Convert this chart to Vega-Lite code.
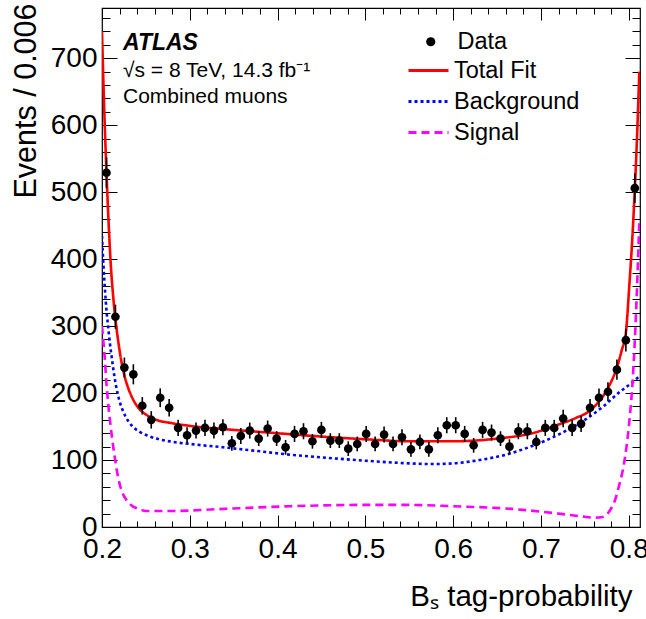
{
  "$schema": "https://vega.github.io/schema/vega-lite/v6.json",
  "width": 538,
  "height": 519,
  "autosize": {"type": "none"},
  "padding": {"left": 102, "top": 8, "right": 6, "bottom": 92},
  "background": "white",
  "config": {
    "view": {"stroke": "black", "strokeWidth": 1.2},
    "font": "Liberation Sans"
  },
  "title": {
    "text": "ATLAS",
    "subtitle": ["√s = 8 TeV, 14.3 fb⁻¹", "Combined muons"],
    "anchor": "start",
    "frame": "group",
    "orient": "top",
    "offset": 0,
    "dx": 21,
    "dy": 104,
    "font": "Liberation Sans",
    "fontSize": 23,
    "fontWeight": "bold",
    "fontStyle": "italic",
    "color": "black",
    "subtitleFont": "Liberation Sans",
    "subtitleFontSize": 21,
    "subtitleColor": "black",
    "subtitlePadding": 5,
    "subtitleLineHeight": 26
  },
  "datasets": {
    "points": [
      {"x": 0.2051, "y": 529, "lo": 506, "hi": 552},
      {"x": 0.2153, "y": 314, "lo": 296, "hi": 332},
      {"x": 0.2255, "y": 238, "lo": 223, "hi": 253},
      {"x": 0.2357, "y": 228, "lo": 213, "hi": 243},
      {"x": 0.2459, "y": 181, "lo": 168, "hi": 194},
      {"x": 0.2561, "y": 160, "lo": 147, "hi": 173},
      {"x": 0.2663, "y": 193, "lo": 179, "hi": 207},
      {"x": 0.2765, "y": 178, "lo": 165, "hi": 191},
      {"x": 0.2867, "y": 148, "lo": 136, "hi": 160},
      {"x": 0.2969, "y": 137, "lo": 125, "hi": 149},
      {"x": 0.3071, "y": 144, "lo": 132, "hi": 156},
      {"x": 0.3173, "y": 148, "lo": 136, "hi": 160},
      {"x": 0.3275, "y": 144, "lo": 132, "hi": 156},
      {"x": 0.3377, "y": 149, "lo": 137, "hi": 161},
      {"x": 0.3479, "y": 125, "lo": 114, "hi": 136},
      {"x": 0.3581, "y": 136, "lo": 124, "hi": 148},
      {"x": 0.3683, "y": 144, "lo": 132, "hi": 156},
      {"x": 0.3785, "y": 132, "lo": 121, "hi": 143},
      {"x": 0.3887, "y": 147, "lo": 135, "hi": 159},
      {"x": 0.3989, "y": 132, "lo": 121, "hi": 143},
      {"x": 0.4091, "y": 119, "lo": 108, "hi": 130},
      {"x": 0.4193, "y": 139, "lo": 127, "hi": 151},
      {"x": 0.4295, "y": 143, "lo": 131, "hi": 155},
      {"x": 0.4397, "y": 128, "lo": 117, "hi": 139},
      {"x": 0.4499, "y": 145, "lo": 133, "hi": 157},
      {"x": 0.4601, "y": 129, "lo": 118, "hi": 140},
      {"x": 0.4703, "y": 129, "lo": 118, "hi": 140},
      {"x": 0.4805, "y": 117, "lo": 106, "hi": 128},
      {"x": 0.4907, "y": 124, "lo": 113, "hi": 135},
      {"x": 0.5009, "y": 139, "lo": 127, "hi": 151},
      {"x": 0.5111, "y": 124, "lo": 113, "hi": 135},
      {"x": 0.5213, "y": 138, "lo": 126, "hi": 150},
      {"x": 0.5315, "y": 124, "lo": 113, "hi": 135},
      {"x": 0.5417, "y": 134, "lo": 122, "hi": 146},
      {"x": 0.5519, "y": 116, "lo": 105, "hi": 127},
      {"x": 0.5621, "y": 127, "lo": 116, "hi": 138},
      {"x": 0.5723, "y": 116, "lo": 105, "hi": 127},
      {"x": 0.5825, "y": 137, "lo": 125, "hi": 149},
      {"x": 0.5927, "y": 152, "lo": 140, "hi": 164},
      {"x": 0.6029, "y": 152, "lo": 140, "hi": 164},
      {"x": 0.6131, "y": 139, "lo": 127, "hi": 151},
      {"x": 0.6233, "y": 122, "lo": 111, "hi": 133},
      {"x": 0.6335, "y": 145, "lo": 133, "hi": 157},
      {"x": 0.6437, "y": 141, "lo": 129, "hi": 153},
      {"x": 0.6539, "y": 132, "lo": 121, "hi": 143},
      {"x": 0.6641, "y": 120, "lo": 109, "hi": 131},
      {"x": 0.6743, "y": 143, "lo": 131, "hi": 155},
      {"x": 0.6845, "y": 143, "lo": 131, "hi": 155},
      {"x": 0.6947, "y": 127, "lo": 116, "hi": 138},
      {"x": 0.7049, "y": 148, "lo": 136, "hi": 160},
      {"x": 0.7151, "y": 148, "lo": 136, "hi": 160},
      {"x": 0.7253, "y": 162, "lo": 149, "hi": 175},
      {"x": 0.7355, "y": 148, "lo": 136, "hi": 160},
      {"x": 0.7457, "y": 154, "lo": 142, "hi": 166},
      {"x": 0.7559, "y": 178, "lo": 165, "hi": 191},
      {"x": 0.7661, "y": 193, "lo": 179, "hi": 207},
      {"x": 0.7763, "y": 202, "lo": 188, "hi": 216},
      {"x": 0.7865, "y": 235, "lo": 220, "hi": 250},
      {"x": 0.7967, "y": 279, "lo": 262, "hi": 296},
      {"x": 0.8069, "y": 506, "lo": 484, "hi": 528}
    ],
    "curves": [
      {"comp": "Total Fit", "x": 0.2000, "y": 740},
      {"comp": "Total Fit", "x": 0.2025, "y": 625},
      {"comp": "Total Fit", "x": 0.2051, "y": 530},
      {"comp": "Total Fit", "x": 0.2075, "y": 455},
      {"comp": "Total Fit", "x": 0.2100, "y": 392},
      {"comp": "Total Fit", "x": 0.2125, "y": 348},
      {"comp": "Total Fit", "x": 0.2150, "y": 314},
      {"comp": "Total Fit", "x": 0.2180, "y": 282},
      {"comp": "Total Fit", "x": 0.2220, "y": 248},
      {"comp": "Total Fit", "x": 0.2260, "y": 224},
      {"comp": "Total Fit", "x": 0.2300, "y": 207},
      {"comp": "Total Fit", "x": 0.2360, "y": 189},
      {"comp": "Total Fit", "x": 0.2420, "y": 177},
      {"comp": "Total Fit", "x": 0.2500, "y": 168},
      {"comp": "Total Fit", "x": 0.2620, "y": 160},
      {"comp": "Total Fit", "x": 0.2800, "y": 155},
      {"comp": "Total Fit", "x": 0.3000, "y": 151},
      {"comp": "Total Fit", "x": 0.3500, "y": 145},
      {"comp": "Total Fit", "x": 0.4000, "y": 140},
      {"comp": "Total Fit", "x": 0.4500, "y": 135},
      {"comp": "Total Fit", "x": 0.5000, "y": 131},
      {"comp": "Total Fit", "x": 0.5500, "y": 128},
      {"comp": "Total Fit", "x": 0.6000, "y": 128},
      {"comp": "Total Fit", "x": 0.6500, "y": 132},
      {"comp": "Total Fit", "x": 0.6900, "y": 140},
      {"comp": "Total Fit", "x": 0.7200, "y": 153},
      {"comp": "Total Fit", "x": 0.7400, "y": 163},
      {"comp": "Total Fit", "x": 0.7550, "y": 173},
      {"comp": "Total Fit", "x": 0.7650, "y": 186},
      {"comp": "Total Fit", "x": 0.7730, "y": 200},
      {"comp": "Total Fit", "x": 0.7800, "y": 217},
      {"comp": "Total Fit", "x": 0.7865, "y": 238},
      {"comp": "Total Fit", "x": 0.7920, "y": 264},
      {"comp": "Total Fit", "x": 0.7967, "y": 290},
      {"comp": "Total Fit", "x": 0.8006, "y": 360},
      {"comp": "Total Fit", "x": 0.8040, "y": 430},
      {"comp": "Total Fit", "x": 0.8069, "y": 505},
      {"comp": "Total Fit", "x": 0.8095, "y": 585},
      {"comp": "Total Fit", "x": 0.8120, "y": 680},
      {"comp": "Background", "x": 0.2000, "y": 435},
      {"comp": "Background", "x": 0.2017, "y": 390},
      {"comp": "Background", "x": 0.2034, "y": 354},
      {"comp": "Background", "x": 0.2050, "y": 325},
      {"comp": "Background", "x": 0.2070, "y": 299},
      {"comp": "Background", "x": 0.2090, "y": 274},
      {"comp": "Background", "x": 0.2110, "y": 254},
      {"comp": "Background", "x": 0.2140, "y": 226},
      {"comp": "Background", "x": 0.2167, "y": 206},
      {"comp": "Background", "x": 0.2200, "y": 188},
      {"comp": "Background", "x": 0.2243, "y": 172},
      {"comp": "Background", "x": 0.2300, "y": 158},
      {"comp": "Background", "x": 0.2357, "y": 149},
      {"comp": "Background", "x": 0.2430, "y": 142},
      {"comp": "Background", "x": 0.2509, "y": 137},
      {"comp": "Background", "x": 0.2650, "y": 131},
      {"comp": "Background", "x": 0.2810, "y": 127},
      {"comp": "Background", "x": 0.3000, "y": 124},
      {"comp": "Background", "x": 0.3380, "y": 119},
      {"comp": "Background", "x": 0.3800, "y": 113},
      {"comp": "Background", "x": 0.4140, "y": 108},
      {"comp": "Background", "x": 0.4500, "y": 104},
      {"comp": "Background", "x": 0.5000, "y": 99},
      {"comp": "Background", "x": 0.5500, "y": 95},
      {"comp": "Background", "x": 0.5750, "y": 94},
      {"comp": "Background", "x": 0.6000, "y": 95},
      {"comp": "Background", "x": 0.6300, "y": 100},
      {"comp": "Background", "x": 0.6600, "y": 108},
      {"comp": "Background", "x": 0.6900, "y": 121},
      {"comp": "Background", "x": 0.7200, "y": 138},
      {"comp": "Background", "x": 0.7500, "y": 160},
      {"comp": "Background", "x": 0.7700, "y": 179},
      {"comp": "Background", "x": 0.7900, "y": 202},
      {"comp": "Background", "x": 0.8050, "y": 217},
      {"comp": "Background", "x": 0.8120, "y": 225},
      {"comp": "Signal", "x": 0.2000, "y": 300},
      {"comp": "Signal", "x": 0.2017, "y": 275},
      {"comp": "Signal", "x": 0.2034, "y": 248},
      {"comp": "Signal", "x": 0.2050, "y": 215},
      {"comp": "Signal", "x": 0.2070, "y": 185},
      {"comp": "Signal", "x": 0.2090, "y": 160},
      {"comp": "Signal", "x": 0.2110, "y": 138},
      {"comp": "Signal", "x": 0.2130, "y": 118},
      {"comp": "Signal", "x": 0.2148, "y": 102},
      {"comp": "Signal", "x": 0.2175, "y": 80},
      {"comp": "Signal", "x": 0.2205, "y": 62},
      {"comp": "Signal", "x": 0.2240, "y": 49},
      {"comp": "Signal", "x": 0.2280, "y": 40},
      {"comp": "Signal", "x": 0.2330, "y": 33},
      {"comp": "Signal", "x": 0.2395, "y": 28},
      {"comp": "Signal", "x": 0.2509, "y": 24},
      {"comp": "Signal", "x": 0.2810, "y": 24},
      {"comp": "Signal", "x": 0.3380, "y": 27},
      {"comp": "Signal", "x": 0.4140, "y": 31},
      {"comp": "Signal", "x": 0.5000, "y": 33},
      {"comp": "Signal", "x": 0.5500, "y": 33},
      {"comp": "Signal", "x": 0.6000, "y": 31},
      {"comp": "Signal", "x": 0.6670, "y": 27},
      {"comp": "Signal", "x": 0.7200, "y": 20},
      {"comp": "Signal", "x": 0.7450, "y": 16},
      {"comp": "Signal", "x": 0.7600, "y": 14},
      {"comp": "Signal", "x": 0.7700, "y": 15},
      {"comp": "Signal", "x": 0.7750, "y": 19},
      {"comp": "Signal", "x": 0.7800, "y": 28},
      {"comp": "Signal", "x": 0.7843, "y": 40},
      {"comp": "Signal", "x": 0.7890, "y": 62},
      {"comp": "Signal", "x": 0.7944, "y": 93},
      {"comp": "Signal", "x": 0.8006, "y": 157},
      {"comp": "Signal", "x": 0.8040, "y": 210},
      {"comp": "Signal", "x": 0.8066, "y": 270},
      {"comp": "Signal", "x": 0.8095, "y": 360},
      {"comp": "Signal", "x": 0.8120, "y": 456}
    ]
  },
  "layer": [
    {
      "data": {"name": "curves"},
      "mark": {"type": "line", "strokeWidth": 2.6, "interpolate": "monotone", "clip": true},
      "encoding": {
        "x": {"field": "x", "type": "quantitative", "scale": {"domain": [0.2, 0.8128], "nice": false, "zero": false}, "axis": null},
        "y": {"field": "y", "type": "quantitative", "scale": {"domain": [0, 775], "nice": false}, "axis": null},
        "color": {
          "field": "comp", "type": "nominal",
          "scale": {"domain": ["Total Fit", "Background", "Signal"], "range": ["#ff0000", "#0000ff", "#ff00ff"]},
          "legend": {"title": null, "orient": "none", "legendX": 305, "legendY": 47, "padding": 0, "symbolType": "stroke", "symbolSize": 1600, "symbolStrokeWidth": 3, "labelFont": "Liberation Sans", "labelFontSize": 23.5, "labelColor": "black", "labelOffset": 4, "clipHeight": 31, "rowPadding": 0}
        },
        "strokeDash": {
          "field": "comp", "type": "nominal",
          "scale": {"domain": ["Total Fit", "Background", "Signal"], "range": [[1, 0], [3, 3], [8, 5]]},
          "legend": {"title": null, "orient": "none", "legendX": 305, "legendY": 47, "padding": 0, "symbolType": "stroke", "symbolSize": 1600, "symbolStrokeWidth": 3, "labelFont": "Liberation Sans", "labelFontSize": 23.5, "labelColor": "black", "labelOffset": 4, "clipHeight": 31, "rowPadding": 0}
        }
      }
    },
    {
      "data": {"name": "points"},
      "mark": {"type": "rule", "color": "black", "strokeWidth": 1.6},
      "encoding": {
        "x": {"field": "x", "type": "quantitative",
          "axis": {"orient": "top", "values": [0.2,0.22,0.24,0.26,0.28,0.3,0.32,0.34,0.36,0.38,0.4,0.42,0.44,0.46,0.48,0.5,0.52,0.54,0.56,0.58,0.6,0.62,0.64,0.66,0.68,0.7,0.72,0.74,0.76,0.78,0.8],
            "labels": false, "domain": false, "grid": false, "title": null, "tickColor": "black", "tickWidth": 1,
            "tickSize": {"condition": {"test": "abs(datum.value*10 - round(datum.value*10)) < 0.001", "value": -12}, "value": -6}}},
        "y": {"field": "lo", "type": "quantitative",
          "axis": {"orient": "right", "values": [0,20,40,60,80,100,120,140,160,180,200,220,240,260,280,300,320,340,360,380,400,420,440,460,480,500,520,540,560,580,600,620,640,660,680,700,720,740,760],
            "labels": false, "domain": false, "grid": false, "title": null, "tickColor": "black", "tickWidth": 1,
            "tickSize": {"condition": {"test": "datum.value % 100 === 0", "value": -15}, "value": -8}}},
        "y2": {"field": "hi"}
      }
    },
    {
      "data": {"name": "points"},
      "mark": {"type": "point", "filled": true, "color": "black", "size": 75, "opacity": 1},
      "encoding": {
        "x": {"field": "x", "type": "quantitative",
          "axis": {"orient": "bottom", "values": [0.2,0.22,0.24,0.26,0.28,0.3,0.32,0.34,0.36,0.38,0.4,0.42,0.44,0.46,0.48,0.5,0.52,0.54,0.56,0.58,0.6,0.62,0.64,0.66,0.68,0.7,0.72,0.74,0.76,0.78,0.8],
            "labelExpr": "abs(datum.value*10 - round(datum.value*10)) < 0.001 ? format(datum.value, '.1f') : ''",
            "labelFont": "Liberation Sans", "labelFontSize": 28, "labelColor": "black", "labelPadding": 20, "labelFlush": false, "labelOverlap": false,
            "domain": false, "grid": false, "tickColor": "black", "tickWidth": 1,
            "tickSize": {"condition": {"test": "abs(datum.value*10 - round(datum.value*10)) < 0.001", "value": -12}, "value": -6},
            "title": "Bₛ tag-probability", "titleFont": "Liberation Sans", "titleFontSize": 29.5, "titleFontWeight": "normal", "titleColor": "black",
            "titleX": 530, "titleY": 78, "titleAlign": "right", "titleBaseline": "alphabetic"}},
        "y": {"field": "y", "type": "quantitative",
          "axis": {"orient": "left", "values": [0,20,40,60,80,100,120,140,160,180,200,220,240,260,280,300,320,340,360,380,400,420,440,460,480,500,520,540,560,580,600,620,640,660,680,700,720,740,760],
            "labelExpr": "datum.value % 100 === 0 ? datum.label : ''",
            "labelFont": "Liberation Sans", "labelFontSize": 28, "labelColor": "black", "labelPadding": 20, "labelOverlap": false, "labelFlush": false,
            "domain": false, "grid": false, "tickColor": "black", "tickWidth": 1,
            "tickSize": {"condition": {"test": "datum.value % 100 === 0", "value": -15}, "value": -8},
            "title": "Events / 0.006", "titleFont": "Liberation Sans", "titleFontSize": 30.5, "titleFontWeight": "normal", "titleColor": "black",
            "titleX": -67, "titleY": -5, "titleAlign": "right", "titleBaseline": "alphabetic", "titleAngle": -90}},
        "shape": {"datum": "Data", "type": "nominal", "scale": {"range": ["circle"]},
          "legend": {"title": null, "orient": "none", "legendX": 317, "legendY": 22, "padding": 0, "symbolSize": 85, "symbolFillColor": "black", "symbolStrokeColor": "black", "labelFont": "Liberation Sans", "labelFontSize": 23.5, "labelColor": "black", "labelOffset": 15}}
      }
    }
  ],
  "resolve": {"axis": {"x": "independent", "y": "independent"}}
}
